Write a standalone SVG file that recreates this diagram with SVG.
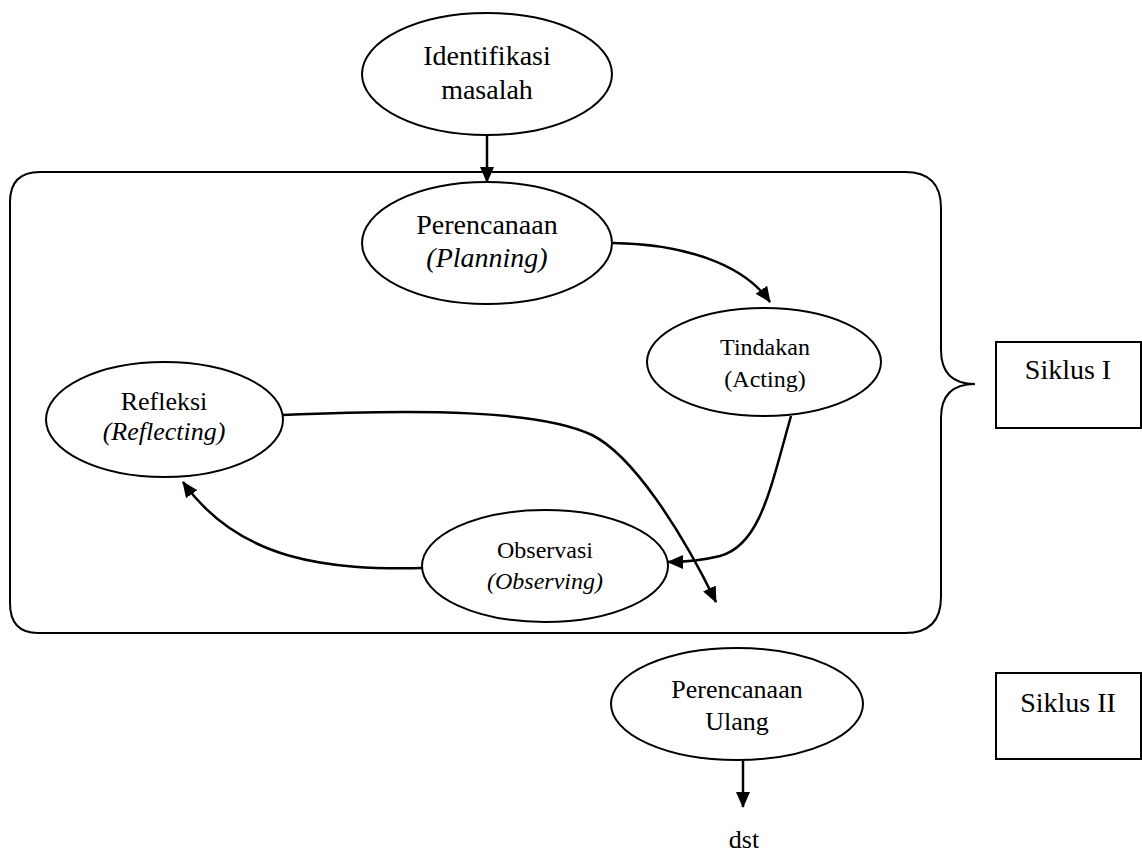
<svg xmlns="http://www.w3.org/2000/svg" width="1142" height="853" viewBox="0 0 1142 853">
<defs>
<marker id="ah" viewBox="0 0 16 14" refX="15" refY="7" markerWidth="16" markerHeight="14" markerUnits="userSpaceOnUse" orient="auto">
<path d="M0,0 L16,7 L0,14 Z" fill="#000"/>
</marker>
<style>
.n{fill:#fff;stroke:#000;stroke-width:2}
.c{fill:none;stroke:#000;stroke-width:2.5;marker-end:url(#ah)}
.t{font-family:"Liberation Serif","Times New Roman",serif;fill:#000;text-anchor:middle}
.i{font-style:italic}
.b{fill:none;stroke:#000;stroke-width:2}
</style>
</defs>
<rect width="1142" height="853" fill="#fff"/>
<g id="container">
<path class="b" d="M40 172 L905 172 Q941 172 941 208 L941 350 Q941 384 975 384 Q941 384 941 418 L941 597 Q941 633 905 633 L38 633 Q10 633 10 603 L10 202 Q10 172 40 172 Z"/>
</g>
<g id="connectors">
<path class="c" d="M487 136 L487 182"/>
<path class="c" d="M613 243 C680 244 742 262 770 302"/>
<path class="c" d="M791 416 C770 490 760 545 720 556 C700 561 685 562 668 562"/>
<path class="c" d="M423 568 C330 570 240 562 183 482"/>
<path class="c" d="M283 415 C420 409 540 410 592 435 C632 455 680 528 716 602"/>
<path class="c" d="M743 760 L743 807"/>
</g>
<g id="identifikasi">
<ellipse class="n" cx="487" cy="74" rx="125" ry="61"/>
<text class="t" x="487" y="65" font-size="28">Identifikasi</text>
<text class="t" x="487" y="99" font-size="28">masalah</text>
</g>
<g id="perencanaan">
<ellipse class="n" cx="487" cy="243" rx="125" ry="61"/>
<text class="t" x="487" y="234" font-size="28">Perencanaan</text>
<text class="t i" x="487" y="267" font-size="28">(Planning)</text>
</g>
<g id="tindakan">
<ellipse class="n" cx="764" cy="362" rx="117" ry="54"/>
<text class="t" x="765" y="355" font-size="24">Tindakan</text>
<text class="t" x="765" y="387" font-size="24">(Acting)</text>
</g>
<g id="refleksi">
<ellipse class="n" cx="164.5" cy="419.5" rx="118.5" ry="57.5"/>
<text class="t" x="164" y="410" font-size="26">Refleksi</text>
<text class="t i" x="164" y="440" font-size="26">(Reflecting)</text>
</g>
<g id="observasi">
<ellipse class="n" cx="545" cy="566" rx="123" ry="56"/>
<text class="t" x="545" y="558" font-size="24">Observasi</text>
<text class="t i" x="545" y="589" font-size="24">(Observing)</text>
</g>
<g id="perencanaan-ulang">
<ellipse class="n" cx="737" cy="704" rx="126" ry="56"/>
<text class="t" x="737" y="698" font-size="26">Perencanaan</text>
<text class="t" x="737" y="730" font-size="26">Ulang</text>
</g>
<g id="dst">
<text class="t" x="744" y="848" font-size="26">dst</text>
</g>
<g id="siklus1">
<rect class="b" x="996" y="342" width="145" height="86"/>
<text class="t" x="1068" y="379" font-size="28">Siklus I</text>
</g>
<g id="siklus2">
<rect class="b" x="996" y="673" width="145" height="86"/>
<text class="t" x="1068" y="712" font-size="28">Siklus II</text>
</g>
</svg>
